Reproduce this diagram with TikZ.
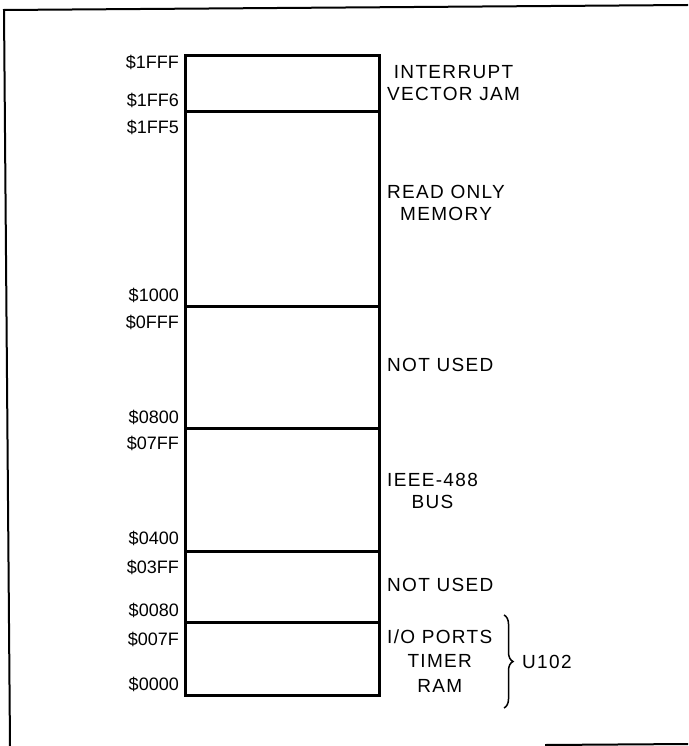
\documentclass[tikz,border=0pt]{standalone}
\usepackage{fontspec}
\setmainfont{Liberation Sans}
\newfontfamily\widefont[LetterSpace=7]{Liberation Sans}
\usetikzlibrary{positioning,decorations.pathreplacing}

\begin{document}
\begin{tikzpicture}[
    x=1pt, y=-1pt,
    region/.style={rectangle, draw, line width=3pt, minimum width=194pt, inner sep=0pt},
    addr/.style={anchor=base east, inner sep=0pt, font=\fontsize{18}{22}\selectfont},
    desc/.style={anchor=west, inner sep=0pt, align=center, font=\widefont\fontsize{19}{22.5}\selectfont},
    frameline/.style={line width=2pt},
    bracket/.style={line width=1.5pt, decorate, decoration={brace, amplitude=9pt}}
]
\useasboundingbox (0,0) rectangle (688,746);

% Frame
\draw[frameline] (10,746) -- (4,10) -- (688,5);
\draw[frameline] (545,745) -- (688,744);

% Memory regions
\node[region, minimum height=56pt] (vec) at (282,84) {};
\node[region, minimum height=194pt] (rom) at (282,209) {};
\node[region, minimum height=122pt] (free1) at (282,367) {};
\node[region, minimum height=123pt] (ieee) at (282,489.5) {};
\node[region, minimum height=71pt] (free2) at (282,586.5) {};
\node[region, minimum height=73pt] (io) at (282,658.5) {};

% Addresses
\foreach \addr/\yy in {1FFF/62, 1FF6/100, 1FF5/127, 1000/295, 0FFF/322, 0800/417,
    07FF/443, 0400/538, 03FF/567, 0080/610, 007F/639, 0000/684}
  \node[addr] (a\addr) at (179,\yy+6.5) {\$\addr};

% Descriptions
\node[desc] (vecl) at (387,83) {INTERRUPT\\VECTOR JAM};
\node[desc] (roml) at (387,203) {READ ONLY\\MEMORY};
\node[desc] (free1l) at (387,365) {NOT USED};
\node[desc] (ieeel) at (387,491) {IEEE-488\\BUS};
\node[desc] (free2l) at (387,585) {NOT USED};
\node[desc, font=\widefont\fontsize{19}{24.5}\selectfont] (iol) at (387,661) {I/O PORTS\\TIMER\\RAM};

% Chip bracket
\coordinate (brtop) at (504,615);
\coordinate (brbot) at (504,708);
\draw[bracket] (brtop) -- (brbot);
\node[anchor=west, inner sep=0pt, font=\widefont\fontsize{19}{22}\selectfont] (chip) at (522,662) {U102};

\end{tikzpicture}
\end{document}
